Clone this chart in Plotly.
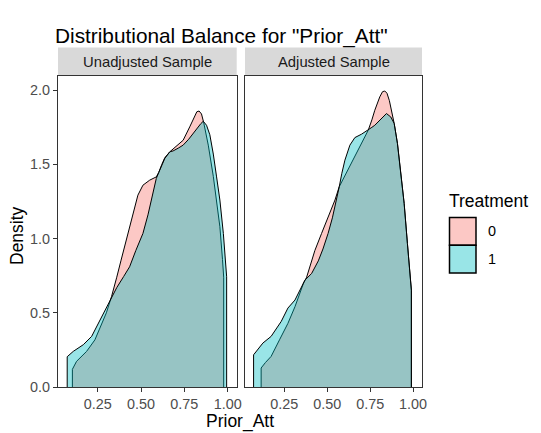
import plotly.graph_objects as go

# Density of Prior_Att by treatment group, before and after adjustment
panel_titles = ["Unadjusted Sample", "Adjusted Sample"]
treatment_levels = ["0", "1"]

# Unadjusted sample
unadj_t0_x = [0.104, 0.128, 0.155, 0.186, 0.234, 0.263, 0.300, 0.330, 0.345, 0.360, 0.385,
              0.424, 0.453, 0.482, 0.511, 0.550, 0.588, 0.602, 0.620, 0.637, 0.666, 0.685,
              0.715, 0.743, 0.781, 0.805, 0.822, 0.835, 0.849, 0.862, 0.888, 0.917, 0.936,
              0.955, 0.970, 0.977]
unadj_t0_y = [0.119, 0.173, 0.205, 0.240, 0.318, 0.397, 0.500, 0.610, 0.670, 0.740, 0.855,
              1.035, 1.170, 1.293, 1.360, 1.394, 1.416, 1.445, 1.500, 1.545, 1.585, 1.605,
              1.635, 1.663, 1.753, 1.820, 1.855, 1.860, 1.840, 1.780, 1.630, 1.420, 1.260,
              1.080, 0.860, 0.740]
unadj_t1_x = [0.074, 0.109, 0.167, 0.215, 0.263, 0.295, 0.330, 0.360, 0.400, 0.434, 0.470,
              0.511, 0.540, 0.559, 0.588, 0.602, 0.620, 0.637, 0.666, 0.685, 0.715, 0.743,
              0.775, 0.801, 0.822, 0.845, 0.859, 0.878, 0.897, 0.917, 0.936, 0.955, 0.975,
              0.988, 0.994]
unadj_t1_y = [0.204, 0.240, 0.285, 0.341, 0.450, 0.520, 0.610, 0.670, 0.745, 0.810, 0.920,
              1.035, 1.160, 1.259, 1.405, 1.445, 1.500, 1.540, 1.585, 1.591, 1.610, 1.630,
              1.670, 1.708, 1.745, 1.775, 1.791, 1.764, 1.700, 1.570, 1.416, 1.260, 1.035,
              0.855, 0.743]

# Adjusted (weighted) sample
adj_t0_x = [0.115, 0.140, 0.173, 0.222, 0.271, 0.312, 0.340, 0.362, 0.380, 0.400, 0.428,
            0.467, 0.506, 0.545, 0.570, 0.603, 0.661, 0.700, 0.739, 0.760, 0.777, 0.806,
            0.822, 0.835, 0.848, 0.862, 0.874, 0.890, 0.909, 0.928, 0.948, 0.967, 0.981,
            0.990]
adj_t0_y = [0.128, 0.165, 0.206, 0.318, 0.429, 0.541, 0.630, 0.700, 0.740, 0.810, 0.920,
            1.035, 1.150, 1.260, 1.350, 1.425, 1.555, 1.643, 1.731, 1.800, 1.865, 1.955,
            1.990, 1.995, 1.980, 1.930, 1.865, 1.776, 1.641, 1.461, 1.237, 0.967, 0.765,
            0.653]
adj_t1_x = [0.071, 0.125, 0.173, 0.232, 0.271, 0.312, 0.340, 0.370, 0.409, 0.448, 0.475,
            0.505, 0.530, 0.550, 0.570, 0.585, 0.603, 0.632, 0.661, 0.700, 0.739, 0.760,
            0.777, 0.816, 0.845, 0.870, 0.890, 0.909, 0.928, 0.948, 0.967, 0.981, 0.990]
adj_t1_y = [0.217, 0.296, 0.341, 0.442, 0.532, 0.586, 0.650, 0.720, 0.765, 0.850, 0.930,
            1.035, 1.140, 1.240, 1.350, 1.440, 1.529, 1.630, 1.681, 1.704, 1.731, 1.750,
            1.764, 1.809, 1.843, 1.820, 1.776, 1.641, 1.461, 1.237, 0.967, 0.765, 0.653]

x_tick_vals = [0.25, 0.50, 0.75, 1.00]
x_tick_text = ["0.25", "0.50", "0.75", "1.00"]
y_tick_vals = [0.0, 0.5, 1.0, 1.5, 2.0]
y_tick_text = ["0.0", "0.5", "1.0", "1.5", "2.0"]

FONT = "Liberation Sans, Arial, sans-serif"
fills = {"0": "rgba(248,118,109,0.4)", "1": "rgba(0,191,196,0.4)"}
W, H = 541, 433
ML, MR, MT, MB = 58, 119, 76, 46
PW, PH = W - ML - MR, H - MT - MB


def px_x(p):
    return (p - ML) / PW


def px_y(p):
    return (H - MB - p) / PH


panel_data = [
    [(unadj_t0_x, unadj_t0_y), (unadj_t1_x, unadj_t1_y)],
    [(adj_t0_x, adj_t0_y), (adj_t1_x, adj_t1_y)],
]
axis_ids = [("x", "y"), ("x2", "y2")]

fig = go.Figure()
for (xa, ya), groups in zip(axis_ids, panel_data):
    for level, (xs, ys) in zip(treatment_levels, groups):
        fig.add_trace(go.Scatter(
            x=[xs[0]] + xs + [xs[-1]],
            y=[0] + ys + [0],
            mode="lines", fill="tozeroy", fillcolor=fills[level],
            line=dict(color="black", width=1),
            xaxis=xa, yaxis=ya, showlegend=False, hoverinfo="skip",
        ))

x_dom1 = [0, px_x(236.7)]
x_dom2 = [px_x(245), 1]

common_x = dict(range=[0.021, 1.052], tickvals=x_tick_vals, ticktext=x_tick_text,
                ticks="outside", ticklen=4, tickcolor="#333333", tickwidth=1,
                tickfont=dict(family=FONT, size=14.4, color="#4D4D4D"),
                showline=True, mirror=True, linecolor="#333333", linewidth=1,
                showgrid=False, zeroline=False)
fig.update_layout(
    width=W, height=H,
    margin=dict(l=ML, r=MR, t=MT, b=MB),
    paper_bgcolor="white", plot_bgcolor="white",
    xaxis=dict(domain=x_dom1, anchor="y", **common_x),
    xaxis2=dict(domain=x_dom2, anchor="y2", **common_x),
    yaxis=dict(domain=[0, 1], anchor="x", range=[0, 2.096], tickvals=y_tick_vals,
               ticktext=y_tick_text, ticks="outside", ticklen=4, tickcolor="#333333",
               tickfont=dict(family=FONT, size=14.4, color="#4D4D4D"),
               showline=True, mirror=True, linecolor="#333333", linewidth=1,
               showgrid=False, zeroline=False),
    yaxis2=dict(domain=[0, 1], anchor="x2", matches="y", showticklabels=False, ticks="",
                showline=True, mirror=True, linecolor="#333333", linewidth=1,
                showgrid=False, zeroline=False),
    showlegend=False,
)

shapes = []
annotations = []

# facet strips
for dom, title in zip([x_dom1, x_dom2], panel_titles):
    shapes.append(dict(type="rect", xref="paper", yref="paper",
                       x0=dom[0], x1=dom[1], y0=px_y(75.5), y1=px_y(47.5),
                       fillcolor="#D9D9D9", line=dict(width=0), layer="below"))
    annotations.append(dict(xref="paper", yref="paper", x=(dom[0] + dom[1]) / 2,
                            y=px_y(62), text=title, showarrow=False,
                            xanchor="center", yanchor="middle",
                            font=dict(family=FONT, size=14.8, color="#1A1A1A")))

# title and axis titles
annotations.append(dict(xref="paper", yref="paper", x=px_x(53), y=px_y(36),
                        text='Distributional Balance for "Prior_Att"', showarrow=False,
                        xanchor="left", yanchor="middle",
                        font=dict(family=FONT, size=20.8, color="black")))
annotations.append(dict(xref="paper", yref="paper", x=px_x(17), y=px_y(236),
                        text="Density", showarrow=False, textangle=-90,
                        xanchor="center", yanchor="middle",
                        font=dict(family=FONT, size=17.5, color="black")))
annotations.append(dict(xref="paper", yref="paper", x=px_x(240), y=px_y(421),
                        text="Prior_Att", showarrow=False,
                        xanchor="center", yanchor="middle",
                        font=dict(family=FONT, size=17.5, color="black")))

# legend
annotations.append(dict(xref="paper", yref="paper", x=px_x(447), y=px_y(201),
                        text="Treatment", showarrow=False,
                        xanchor="left", yanchor="middle",
                        font=dict(family=FONT, size=17.5, color="black")))
key_top = 217.5
key_h = 27.8
for i, level in enumerate(treatment_levels):
    top = key_top + i * key_h
    shapes.append(dict(type="rect", xref="paper", yref="paper",
                       x0=px_x(449.5), x1=px_x(476), y0=px_y(top + key_h), y1=px_y(top),
                       fillcolor=fills[level], line=dict(color="black", width=1.5)))
    annotations.append(dict(xref="paper", yref="paper", x=px_x(486), y=px_y(top + key_h / 2),
                            text=level, showarrow=False, xanchor="left", yanchor="middle",
                            font=dict(family=FONT, size=14.4, color="black")))

fig.update_layout(shapes=shapes, annotations=annotations)
fig.write_html("out.html", config={"displayModeBar": False})
